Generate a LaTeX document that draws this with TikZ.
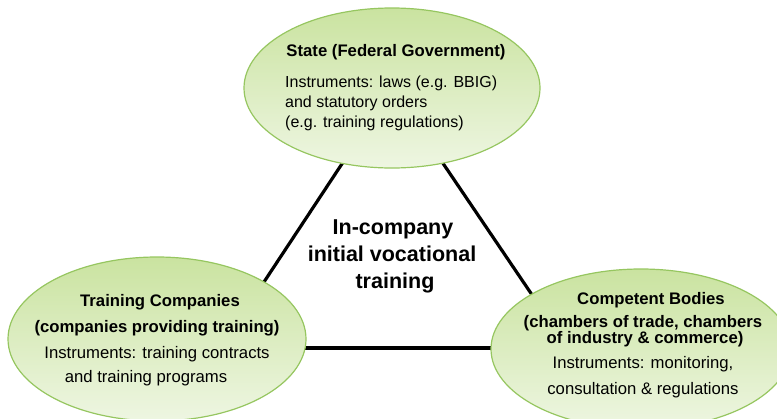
\documentclass[tikz,border=0pt]{standalone}
\usepackage{fontspec}
\setmainfont{Liberation Sans}
\usetikzlibrary{shapes.geometric,backgrounds}
\definecolor{ellTop}{RGB}{202,227,160}
\definecolor{ellBot}{RGB}{238,246,226}
\definecolor{ellLine}{RGB}{150,198,96}
\tikzset{
  party/.style={ellipse, draw=ellLine, line width=1.2pt, top color=ellTop, bottom color=ellBot, inner sep=0pt},
  link/.style={line width=3.2pt, black},
  ttl/.style={font=\fontsize{16.7}{19}\selectfont\bfseries, inner sep=0pt, anchor=base},
  txt/.style={font=\fontsize{16.7}{19}\selectfont, inner sep=0pt, anchor=base},
  txts/.style={font=\fontsize{16}{18}\selectfont, inner sep=0pt, anchor=base west},
  ctr/.style={font=\fontsize{21.5}{25}\selectfont\bfseries, inner sep=0pt, anchor=base}
}
\begin{document}
\begin{tikzpicture}[x=1pt,y=-1pt]
\useasboundingbox (0,0) rectangle (777,418);
\clip (0,0) rectangle (777,418);
% ellipses
\node[party, minimum width=296pt, minimum height=160pt] (state) at (392,88) {};
\node[party, minimum width=298pt, minimum height=164pt] (comp) at (157,339) {};
\node[party, minimum width=300pt, minimum height=160pt] (body) at (641,349) {};
\coordinate (compEnd) at (227,338);
\coordinate (bodyEnd) at (568,348);
\coordinate (compBase) at (200,348);
\coordinate (bodyBase) at (600,348);
\begin{scope}[on background layer]
\draw[link] (state.center) -- (compEnd);
\draw[link] (state.center) -- (bodyEnd);
\draw[link] (compBase) -- (bodyBase);
\end{scope}
% state text
\node[ttl] (s1) at (396,56) {State (Federal Government)};
\node[txts] (s2) at (285,87) {Instruments: laws (e.g. BBIG)};
\node[txts] (s3) at (285,107) {and statutory orders};
\node[txts] (s4) at (285,127) {(e.g. training regulations)};
% centre text
\node[ctr] (c1) at (393,234) {In-company};
\node[ctr] (c2) at (392,261) {initial vocational};
\node[ctr] (c3) at (395,288) {training};
% companies text
\node[ttl] (t1) at (160,306) {Training Companies};
\node[ttl] (t2) at (157,332) {(companies providing training)};
\node[txt] (t3) at (157,358) {Instruments: training contracts};
\node[txt] (t4) at (146,382) {and training programs};
% bodies text
\node[ttl] (b1) at (651,304) {Competent Bodies};
\node[ttl] (b2) at (643,327) {(chambers of trade, chambers};
\node[ttl] (b3) at (645,343) {of industry \& commerce)};
\node[txt] (b4) at (643,368) {Instruments: monitoring,};
\node[txt] (b5) at (643,394) {consultation \& regulations};
\end{tikzpicture}
\end{document}
